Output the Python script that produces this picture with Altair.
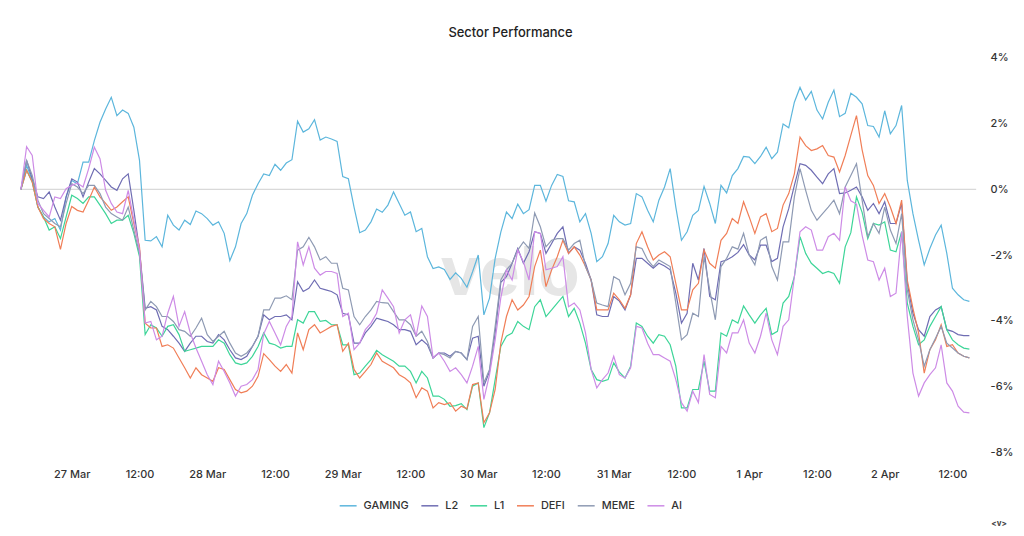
import altair as alt
import pandas as pd

SERIES = ["GAMING", "L2", "L1", "DEFI", "MEME", "AI"]
COLORS = ["#5cb6dc", "#6f6db3", "#3dd598", "#f07e57", "#8e9ab3", "#cd8be6"]
START = "2025-03-26 15:00"
END_DOMAIN = "2025-04-02 16:12"
TICK_FIRST = "2025-03-27 00:00"
TICK_LAST = "2025-04-02 12:00"
N = 169

gaming = [0.0, 0.73, 0.27, -0.54, -0.84, -0.99, -0.89, -1.24, -0.23, 0.27,
          0.17, 0.83, 0.83, 1.48, 2.04, 2.44, 2.8, 2.24, 2.41, 2.31,
          1.89, 0.88, -1.55, -1.57, -1.44, -1.75, -0.79, -1.09, -1.24, -0.94,
          -1.07, -0.66, -0.74, -0.89, -1.09, -0.99, -1.34, -2.17, -1.75, -1.04,
          -0.74, -0.18, 0.17, 0.47, 0.42, 0.76, 0.58, 0.8, 0.9, 2.07,
          1.74, 1.84, 2.12, 1.5, 1.59, 1.53, 1.46, 0.39, 0.32, -0.54,
          -1.32, -1.24, -0.99, -0.6, -0.7, -0.48, -0.08, -0.43, -0.79, -0.69,
          -1.29, -1.19, -2.05, -2.41, -2.36, -2.44, -2.74, -2.54, -2.71, -2.98,
          -2.51, -2.0, -3.82, -3.31, -2.1, -1.3, -0.69, -0.89, -0.45, -0.74,
          -0.62, 0.12, 0.12, -0.36, 0.12, 0.45, 0.39, -0.35, -0.38, -0.99,
          -0.74, -1.34, -2.2, -2.05, -1.65, -0.79, -0.99, -1.09, -1.04, -0.13,
          -0.23, -0.64, -0.99, -0.33, 0.07, 0.63, -0.54, -1.55, -1.29, -0.79,
          -0.64, 0.09, -0.43, -1.04, 0.12, -0.11, 0.42, 0.63, 1.0, 0.98,
          0.78, 1.0, 1.28, 0.93, 1.13, 1.99, 1.87, 2.65, 3.1, 2.72,
          2.98, 2.41, 2.14, 2.65, 3.02, 2.21, 2.31, 2.92, 2.8, 2.6,
          1.94, 1.91, 1.59, 2.39, 1.69, 1.94, 2.55, 0.27, -0.74, -1.55,
          -2.3, -1.8, -1.39, -1.09, -1.95, -3.01, -3.21, -3.36, -3.41]

l2 = [0.0, 0.88, 0.32, -0.23, -0.28, -0.08, -0.54, -0.94, -0.23, 0.32,
      0.22, -0.23, 0.22, 0.63, 0.47, 0.27, 0.07, -0.03, 0.32, 0.47,
      -0.64, -1.85, -3.62, -3.57, -3.67, -4.17, -4.27, -4.47, -4.68, -4.93,
      -4.68, -4.47, -4.47, -4.63, -4.68, -4.42, -4.58, -4.88, -5.13, -5.18,
      -5.08, -4.78, -4.47, -3.82, -3.97, -3.87, -3.87, -3.82, -3.97, -2.81,
      -3.11, -3.01, -2.76, -3.01, -3.06, -3.11, -3.21, -3.77, -3.82, -4.68,
      -4.68, -4.37, -4.17, -3.92, -3.97, -4.02, -4.12, -4.27, -4.27, -4.32,
      -4.73, -4.58, -4.73, -5.13, -4.98, -4.98, -5.08, -4.93, -4.98, -5.18,
      -4.53, -4.47, -5.99, -5.54, -4.37, -2.83, -2.66, -2.25, -1.8, -2.25,
      -1.9, -1.29, -1.34, -1.95, -1.65, -1.34, -1.14, -1.95, -1.75, -1.85,
      -2.25, -2.76, -3.82, -3.87, -3.87, -3.26, -3.4, -3.67, -3.21, -2.1,
      -2.1, -2.25, -2.4, -2.25, -2.33, -2.45, -3.16, -4.07, -3.77, -2.25,
      -2.76, -1.8, -3.26, -3.36, -2.2, -2.15, -2.05, -1.92, -1.68, -2.0,
      -2.15, -1.7, -1.7, -2.2, -2.1, -1.14, -0.59, 0.12, 0.78, 0.73,
      0.58, 0.37, 0.17, 0.47, 0.63, -0.13, -0.11, -0.03, 0.07, -0.23,
      -0.64, -0.43, -0.74, -0.38, -1.04, -1.04, -0.43, -2.86, -3.77, -4.27,
      -4.47, -3.87, -3.67, -3.57, -4.27, -4.32, -4.42, -4.45, -4.45]

l1 = [0.0, 0.58, 0.22, -0.54, -0.84, -1.24, -1.14, -1.5, -0.84, -0.18,
      -0.28, -0.43, -0.23, -0.23, -0.48, -0.74, -1.04, -0.94, -0.94, -0.79,
      -1.34, -2.05, -4.42, -4.12, -4.22, -4.47, -4.17, -4.12, -4.42, -4.93,
      -4.88, -4.83, -4.78, -4.78, -4.78, -4.58, -4.68, -5.03, -5.28, -5.33,
      -5.28, -5.08, -4.78, -4.37, -4.68, -4.73, -4.83, -4.78, -4.78, -3.97,
      -4.07, -3.72, -3.72, -4.02, -3.99, -4.12, -4.12, -4.73, -4.73, -5.64,
      -5.59, -5.38, -5.18, -4.9, -5.03, -5.13, -5.23, -5.38, -5.38, -5.54,
      -5.89, -5.54, -5.74, -6.29, -6.29, -6.39, -6.6, -6.58, -6.52, -6.7,
      -5.99, -5.89, -7.25, -6.8, -5.79, -4.78, -4.47, -4.37, -4.02, -4.17,
      -4.27, -3.57, -3.36, -3.87, -3.67, -3.46, -3.26, -3.87, -3.62, -4.07,
      -4.68, -5.48, -5.79, -5.84, -5.79, -5.28, -5.56, -5.74, -5.38, -4.07,
      -4.17, -4.47, -4.68, -4.42, -4.47, -4.73, -5.38, -6.65, -6.65, -6.09,
      -6.09, -5.23, -6.14, -6.14, -4.37, -4.47, -3.97, -4.07, -3.55, -3.82,
      -4.07, -3.82, -3.62, -4.42, -4.32, -3.46, -3.26, -2.66, -1.44, -1.95,
      -2.25, -2.4, -2.56, -2.5, -2.56, -2.86, -1.75, -1.32, -0.23, -0.7,
      -1.5, -1.04, -1.09, -0.99, -1.85, -1.9, -1.29, -3.46, -4.17, -4.73,
      -4.58, -4.17, -3.87, -3.57, -4.27, -4.58, -4.73, -4.83, -4.86]

defi = [0.0, 0.58, 0.22, -0.54, -0.89, -1.04, -1.14, -1.83, -1.04, -0.52,
        -0.64, -0.69, -0.33, 0.07, -0.23, -0.43, -0.64, -0.54, -0.38, -0.23,
        -1.04, -1.75, -4.07, -4.22, -4.22, -4.78, -4.73, -4.83, -5.13, -5.43,
        -5.74, -5.43, -5.64, -5.74, -5.84, -5.43, -5.48, -5.79, -6.09, -6.19,
        -6.14, -5.99, -5.69, -5.0, -5.18, -5.38, -5.54, -5.33, -5.59, -4.37,
        -4.88, -4.27, -4.12, -4.37, -4.27, -4.17, -4.12, -4.93, -4.68, -5.48,
        -5.74, -5.54, -5.33, -4.98, -5.23, -5.33, -5.43, -5.64, -5.74, -5.89,
        -6.34, -6.04, -6.14, -6.65, -6.49, -6.55, -6.49, -6.75, -6.6, -6.68,
        -5.94, -5.89, -7.1, -6.8, -6.09, -4.68, -3.87, -3.36, -3.67, -3.52,
        -3.26, -2.35, -1.85, -2.96, -2.45, -2.05, -1.55, -1.95, -1.75, -2.0,
        -2.35, -2.76, -3.67, -3.67, -3.67, -3.16, -3.36, -3.62, -3.21, -1.65,
        -1.29, -1.75, -2.15, -2.0, -1.9, -2.05, -2.86, -3.67, -3.67, -3.06,
        -2.86, -1.85, -2.25, -2.4, -1.55, -1.34, -0.89, -1.04, -0.38, -0.84,
        -1.34, -0.84, -0.74, -1.29, -1.19, -0.48, -0.13, 0.47, 1.59, 1.33,
        1.18, 1.23, 1.33, 1.03, 0.98, 0.53, 1.03, 1.64, 2.24, 1.2,
        0.42, 0.12, -0.43, -0.13, -0.54, -1.04, -0.33, -2.76, -3.62, -4.37,
        -5.59, -4.88, -4.58, -4.12, -4.78, -4.73, -4.98, -5.08, -5.13]

meme = [0.0, 0.88, 0.42, -0.33, -0.74, -0.89, -1.04, -1.14, -0.43, 0.17,
        0.07, -0.13, 0.12, 0.12, -0.13, -0.54, -0.74, -0.84, -0.94, -0.54,
        -1.24, -1.95, -3.67, -3.41, -3.57, -3.87, -3.87, -4.02, -4.27, -4.32,
        -4.47, -4.22, -3.92, -4.42, -4.63, -4.47, -4.32, -4.68, -4.98, -5.08,
        -4.98, -4.78, -4.47, -3.67, -3.67, -3.31, -3.31, -3.24, -3.36, -1.85,
        -1.75, -1.46, -1.75, -2.15, -2.05, -2.25, -2.25, -3.01, -3.06, -3.87,
        -4.12, -3.87, -3.67, -3.41, -3.45, -3.46, -3.72, -3.97, -3.97, -4.12,
        -4.47, -4.32, -4.63, -5.13, -4.98, -5.03, -5.13, -4.93, -4.98, -5.18,
        -4.17, -3.87, -5.89, -5.48, -4.17, -2.76, -2.45, -2.25, -1.85, -1.6,
        -1.8, -0.72, -1.14, -1.75, -1.55, -1.5, -1.5, -1.85, -1.65, -1.55,
        -2.35, -2.76, -3.46, -3.52, -3.57, -2.66, -2.76, -3.21, -2.86, -1.75,
        -1.8, -2.15, -2.35, -2.15, -2.25, -2.35, -3.46, -4.58, -4.42, -3.77,
        -3.87, -2.05, -3.06, -3.97, -2.35, -2.1, -1.75, -1.82, -1.34, -2.0,
        -2.3, -1.55, -1.44, -2.35, -2.76, -1.6, -1.6, -0.23, 0.63, -0.03,
        -0.64, -0.94, -0.74, -0.54, -0.33, -0.74, 0.07, 0.42, 0.78, -0.33,
        -1.44, -1.04, -1.34, -0.54, -1.24, -1.65, -0.74, -3.06, -3.97, -4.58,
        -5.38, -4.88, -4.53, -4.17, -4.68, -4.83, -4.98, -5.08, -5.13]

ai = [0.0, 1.3, 1.03, -0.43, -0.64, -0.84, -0.23, -0.28, 0.02, 0.12,
      0.19, 0.07, 0.63, 1.28, 0.93, -0.03, -0.43, -0.69, -0.74, -0.03,
      -0.94, -1.85, -4.07, -4.02, -4.58, -4.47, -3.77, -3.26, -4.17, -3.72,
      -4.37, -4.83, -5.23, -5.64, -5.94, -5.23, -5.54, -5.89, -6.29, -5.99,
      -5.94, -5.79, -5.48, -4.4, -4.02, -4.37, -4.73, -4.17, -3.87, -1.6,
      -2.3, -1.75, -2.4, -2.61, -2.5, -2.5, -2.56, -3.87, -3.77, -4.88,
      -4.68, -4.27, -4.07, -3.77, -3.06, -3.31, -3.57, -4.37, -3.97, -3.82,
      -4.47, -3.55, -3.87, -5.13, -4.98, -5.23, -5.54, -5.43, -5.64, -5.89,
      -5.38, -4.78, -6.39, -5.64, -4.58, -3.3, -2.45, -2.76, -1.85, -2.2,
      -2.76, -1.29, -1.34, -2.45, -2.4, -2.35, -2.05, -3.57, -3.46, -3.67,
      -4.37, -5.48, -6.04, -5.79, -5.59, -5.08, -5.64, -5.74, -5.43, -4.17,
      -4.22, -4.68, -5.03, -5.03, -5.13, -5.23, -5.79, -6.49, -6.75, -6.14,
      -6.49, -5.03, -6.24, -6.34, -4.78, -4.98, -4.37, -4.37, -3.97, -4.68,
      -4.98, -4.47, -3.77, -4.58, -5.03, -4.17, -3.97, -2.66, -1.29, -1.14,
      -1.24, -1.85, -1.85, -1.44, -1.34, -1.55, 0.07, -0.35, -0.45, -1.4,
      -2.15, -2.2, -2.76, -2.4, -3.26, -3.16, -1.29, -3.87, -5.59, -6.29,
      -5.89, -5.64, -5.43, -4.73, -5.89, -6.14, -6.6, -6.78, -6.8]

Y_TICKS = [-8, -6, -4, -2, 0, 2, 4]


def ms(ts):
    return int(pd.Timestamp(ts, tz="UTC").timestamp() * 1000)


times = pd.date_range(START, periods=N, freq="h", tz="UTC")
time_ms = [int(t.timestamp() * 1000) for t in times]
x_ticks = [int(t.timestamp() * 1000) for t in pd.date_range(TICK_FIRST, TICK_LAST, freq="12h", tz="UTC")]

rows = []
for name, vals in zip(SERIES, [gaming, l2, l1, defi, meme, ai]):
    assert len(vals) == N, (name, len(vals))
    for t, v in zip(time_ms, vals):
        rows.append({"time": t, "series": name, "value": v})
df = pd.DataFrame(rows)

FONT = "Inter"

x_enc = alt.X(
    "time:T",
    scale=alt.Scale(type="utc", domain=[ms(START), ms(END_DOMAIN)]),
    axis=alt.Axis(
        title=None, domain=False, ticks=False, grid=False, labelPadding=16,
        values=x_ticks,
        labelExpr="utchours(datum.value) == 0 ? utcFormat(datum.value, '%-d %b') : utcFormat(datum.value, '%H:%M')",
        labelFontSize=11, labelColor="#333333", labelFont=FONT, labelFontWeight=500,
    ),
)
y_scale = alt.Scale(domain=[-8, 4], nice=False, zero=False)
y_axis = alt.Axis(
    orient="right", values=Y_TICKS, labelExpr="datum.value + '%'", title=None,
    domain=False, ticks=False, grid=False, labelPadding=14,
    labelFontSize=11, labelColor="#333333", labelFont=FONT, labelFontWeight=500,
)

watermark = alt.Chart(pd.DataFrame({"t": ["velo"]})).mark_text(
    fontSize=68, fontWeight="bold", color="#e6e6e6", font=FONT
).encode(x=alt.value(491), y=alt.value(218), text="t:N")

zero_rule = alt.Chart(pd.DataFrame({"value": [0]})).mark_rule(
    color="#cfcfcf", strokeWidth=1
).encode(y=alt.Y("value:Q", scale=y_scale, axis=y_axis))

lines = alt.Chart(df).mark_line(strokeWidth=1.2).encode(
    x=x_enc,
    y=alt.Y("value:Q", scale=y_scale, axis=y_axis),
    color=alt.Color(
        "series:N",
        scale=alt.Scale(domain=SERIES, range=COLORS),
        sort=SERIES,
        legend=alt.Legend(
            title=None, orient="none", legendX=319, legendY=440, direction="horizontal",
            symbolType="stroke", symbolStrokeWidth=1.5, symbolSize=289,
            labelFontSize=11, labelFont=FONT, labelColor="#333333", labelFontWeight=500,
            columnPadding=9, labelOffset=6,
        ),
    ),
)

corner = alt.Chart(pd.DataFrame({"t": ["<v>"]})).mark_text(
    fontSize=8, fontWeight="bold", color="#444444", font=FONT
).encode(x=alt.value(982), y=alt.value(468), text="t:N")

chart = alt.layer(watermark, zero_rule, lines, corner).properties(
    width=959,
    height=396,
    title=alt.TitleParams("Sector Performance", fontSize=13, fontWeight=500, color="#222222",
                          font=FONT, offset=12, anchor="middle", dx=12),
    padding={"left": 13, "top": 49, "right": 40, "bottom": 75},
    autosize=alt.AutoSizeParams(type="none"),
).configure_view(stroke=None)

chart.save("out.html", embed_options={"renderer": "svg", "actions": False})
